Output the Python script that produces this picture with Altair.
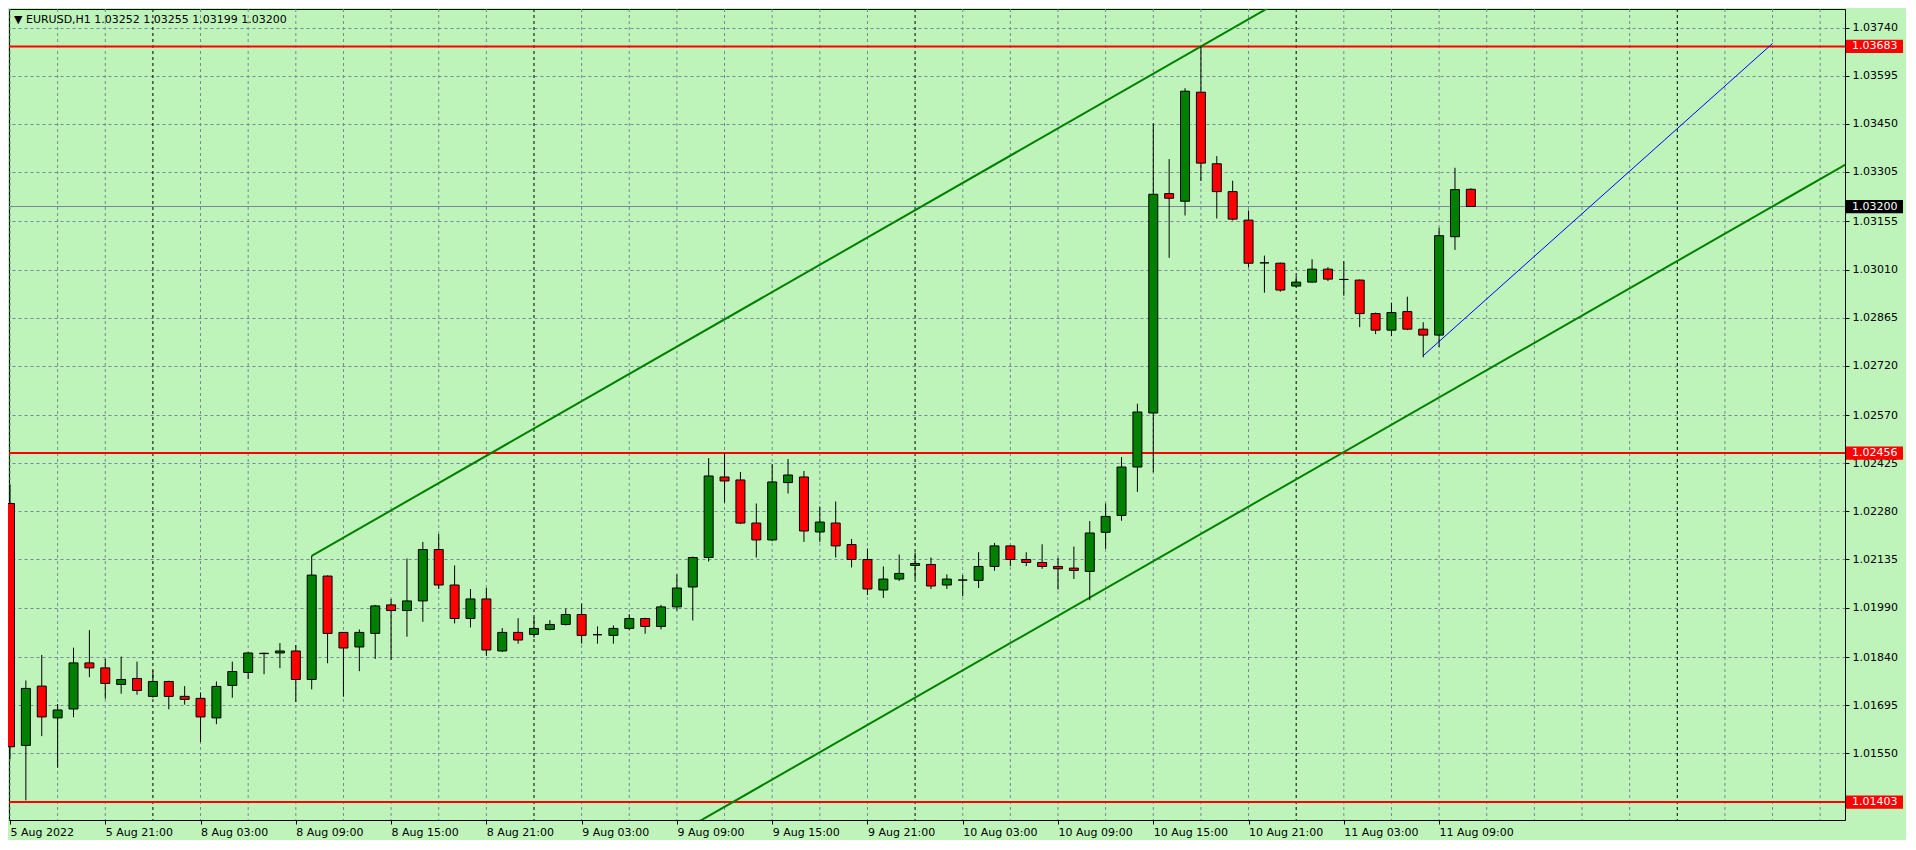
import altair as alt
import pandas as pd

# ---- data: EURUSD H1, bar time as hours since 8 Aug 2022 00:00 ----
HOURS = list(range(-9, 84))
OPEN = [1.02304, 1.01574, 1.01753, 1.01657, 1.01684, 1.01823, 1.01808, 1.01758, 1.01776,
        1.01722, 1.01767, 1.01722, 1.01716, 1.01657, 1.01755, 1.01794, 1.01852, 1.01853, 1.01859,
        1.01773, 1.02085, 1.01915, 1.01871, 1.01912, 1.01998, 1.01981, 1.02010, 1.02165, 1.02058,
        1.01957, 1.02016, 1.01859, 1.01915,
        1.01909, 1.01924, 1.01939, 1.01969, 1.01908, 1.01906, 1.01927, 1.01957, 1.01933, 1.01992,
        1.02052, 1.02141, 1.02384, 1.02375, 1.02245, 1.02194, 1.02367, 1.02384, 1.02218, 1.02245,
        1.02180, 1.02135, 1.02043, 1.02076,
        1.02117, 1.02120, 1.02058, 1.02073, 1.02072, 1.02114, 1.02176, 1.02135, 1.02126, 1.02114,
        1.02109, 1.02099, 1.02217, 1.02268, 1.02414, 1.02577, 1.03239, 1.03216, 1.03545, 1.03329,
        1.03245, 1.03159, 1.03030, 1.03029,
        1.02960, 1.02972, 1.03011, 1.02980, 1.02978, 1.02877, 1.02827, 1.02883, 1.02830, 1.02812,
        1.03109, 1.03252]
HIGH = [1.02361, 1.01770, 1.01847, 1.01699, 1.01869, 1.01922, 1.01836, 1.01842, 1.01827,
        1.01800, 1.01769, 1.01753, 1.01734, 1.01767, 1.01827, 1.01855, 1.01854, 1.01883, 1.01877,
        1.02146, 1.02087, 1.01916, 1.01924, 1.01998, 1.02016, 1.02138, 1.02188, 1.02212, 1.02117,
        1.02046, 1.02049, 1.01928, 1.01958,
        1.01961, 1.01952, 1.01987, 1.02002, 1.01933, 1.01936, 1.01970, 1.01959, 1.01998, 1.02090,
        1.02144, 1.02441, 1.02456, 1.02399, 1.02304, 1.02423, 1.02438, 1.02402, 1.02295, 1.02310,
        1.02197, 1.02168, 1.02114, 1.02150,
        1.02156, 1.02141, 1.02090, 1.02088, 1.02157, 1.02185, 1.02178, 1.02157, 1.02181, 1.02140,
        1.02174, 1.02251, 1.02304, 1.02444, 1.02605, 1.03451, 1.03343, 1.03557, 1.03683, 1.03352,
        1.03278, 1.03188, 1.03052, 1.03031,
        1.02990, 1.03041, 1.03017, 1.03035, 1.02980, 1.02880, 1.02910, 1.02928, 1.02851, 1.03136,
        1.03317, 1.03255]
LOW = [1.01533, 1.01408, 1.01602, 1.01507, 1.01659, 1.01780, 1.01715, 1.01730, 1.01727,
       1.01718, 1.01683, 1.01697, 1.01584, 1.01638, 1.01718, 1.01774, 1.01789, 1.01807, 1.01705,
       1.01743, 1.01822, 1.01721, 1.01798, 1.01835, 1.01832, 1.01902, 1.01947, 1.02046, 1.01942,
       1.01930, 1.01844, 1.01856, 1.01881,
       1.01899, 1.01921, 1.01936, 1.01881, 1.01881, 1.01881, 1.01921, 1.01911, 1.01924, 1.01981,
       1.01951, 1.02129, 1.02307, 1.02242, 1.02141, 1.02190, 1.02334, 1.02188, 1.02188, 1.02141,
       1.02111, 1.02028, 1.02019, 1.02070,
       1.02076, 1.02046, 1.02046, 1.02024, 1.02049, 1.02101, 1.02115, 1.02115, 1.02107, 1.02044,
       1.02076, 1.02012, 1.02167, 1.02252, 1.02339, 1.02398, 1.03045, 1.03173, 1.03277, 1.03164,
       1.03158, 1.03017, 1.02940, 1.02943,
       1.02958, 1.02970, 1.02975, 1.02931, 1.02836, 1.02815, 1.02809, 1.02827, 1.02745, 1.02776,
       1.03069, 1.03199]
CLOSE = [1.01570, 1.01746, 1.01660, 1.01681, 1.01823, 1.01808, 1.01761, 1.01773, 1.01740,
         1.01767, 1.01722, 1.01713, 1.01660, 1.01752, 1.01797, 1.01853, 1.01851, 1.01859, 1.01773,
         1.02088, 1.01912, 1.01868, 1.01915, 1.01995, 1.01981, 1.02010, 1.02165, 1.02058, 1.01957,
         1.02016, 1.01862, 1.01915, 1.01892,
         1.01927, 1.01939, 1.01969, 1.01906, 1.01908, 1.01927, 1.01957, 1.01933, 1.01992, 1.02049,
         1.02141, 1.02387, 1.02372, 1.02245, 1.02194, 1.02369, 1.02390, 1.02221, 1.02248, 1.02176,
         1.02135, 1.02046, 1.02076, 1.02093,
         1.02123, 1.02055, 1.02076, 1.02073, 1.02114, 1.02176, 1.02135, 1.02126, 1.02114, 1.02107,
         1.02102, 1.02215, 1.02265, 1.02414, 1.02580, 1.03237, 1.03225, 1.03548, 1.03331, 1.03245,
         1.03162, 1.03029, 1.03030, 1.02948,
         1.02972, 1.03011, 1.02981, 1.02980, 1.02877, 1.02827, 1.02880, 1.02830, 1.02812, 1.03112,
         1.03251, 1.03200]

# horizontal levels
RED_LEVELS = [1.03683, 1.02456, 1.01403]
CURRENT_PRICE = 1.03200

# trend lines (hour, price) pairs
UPPER_H = [10, 75]
UPPER_P = [1.02146, 1.03930]
LOWER_H = [30, 110]
LOWER_P = [1.01224, 1.03420]
BLUE_H = [80, 102]
BLUE_P = [1.02750, 1.03692]

# axes
Y_TICKS = [1.03740, 1.03595, 1.03450, 1.03305, 1.03155, 1.03010, 1.02865, 1.02720,
           1.02570, 1.02425, 1.02280, 1.02135, 1.01990, 1.01840, 1.01695, 1.01550]
X_TICK_HOURS = [-9, -3, 3, 9, 15, 21, 27, 33, 39, 45, 51, 57, 63, 69, 75, 81]
X_TICK_LABELS = ["5 Aug 2022", "5 Aug 21:00", "8 Aug 03:00", "8 Aug 09:00", "8 Aug 15:00",
                 "8 Aug 21:00", "9 Aug 03:00", "9 Aug 09:00", "9 Aug 15:00", "9 Aug 21:00",
                 "10 Aug 03:00", "10 Aug 09:00", "10 Aug 15:00", "10 Aug 21:00",
                 "11 Aug 03:00", "11 Aug 09:00"]
TITLE = "\u25bc EURUSD,H1  1.03252 1.03255 1.03199 1.03200"

X_DOMAIN = [-9.0625, 106.5625]
Y_DOMAIN = [1.01349, 1.03796]

W, H = 1836, 811
BG = "#BEF4BA"
GRID = "#778899"
FONT = "DejaVu Sans"

df = pd.DataFrame({"h": HOURS, "open": OPEN, "high": HIGH, "low": LOW, "close": CLOSE})
df["dir"] = ["up" if c > o else ("down" if c < o else "flat") for o, c in zip(OPEN, CLOSE)]

xscale = alt.Scale(domain=X_DOMAIN, nice=False, zero=False, padding=0)
yscale = alt.Scale(domain=Y_DOMAIN, nice=False, zero=False, padding=0)

label_arr = "[" + ",".join("'" + s + "'" for s in X_TICK_LABELS) + "]"
x_axis = alt.Axis(values=X_TICK_HOURS, title=None, grid=False, domain=False,
                  labelExpr=label_arr + "[round((datum.value + 9) / 6)]",
                  labelAlign="left", labelPadding=2, tickSize=4, tickColor="black",
                  labelFont=FONT, labelFontSize=11, labelColor="black",
                  labelOverlap=False, labelBound=False, labelFlush=False)
y_axis = alt.Axis(values=Y_TICKS, title=None, orient="right", format=".5f", grid=True,
                  gridDash=[3, 3], gridColor=GRID, gridOpacity=1, domain=False,
                  tickSize=4, tickColor="black", labelPadding=3,
                  labelFont=FONT, labelFontSize=11, labelColor="black", labelOverlap=False)

X = lambda f: alt.X(f, scale=xscale, axis=x_axis)
Y = lambda f: alt.Y(f, scale=yscale, axis=y_axis)

# vertical grid (every 3 bars) and day separators
grid_hours = [h for h in range(-9, 107, 3) if h % 24 != 0]
day_hours = [h for h in range(0, 107, 24)]
vgrid = alt.Chart(pd.DataFrame({"h": grid_hours})).mark_rule(
    color=GRID, strokeDash=[3, 3], strokeWidth=1).encode(x=X("h:Q"))
vday = alt.Chart(pd.DataFrame({"h": day_hours})).mark_rule(
    color="black", strokeDash=[3, 3], strokeWidth=1).encode(x=X("h:Q"))

cur_line = alt.Chart(pd.DataFrame({"p": [CURRENT_PRICE]})).mark_rule(
    color=GRID, strokeWidth=1).encode(y=Y("p:Q"))
red_lines = alt.Chart(pd.DataFrame({"p": RED_LEVELS})).mark_rule(
    color="#FF0000", strokeWidth=2).encode(y=Y("p:Q"))

def tline(hs, ps, color, width):
    return alt.Chart(pd.DataFrame({"h": hs, "p": ps})).mark_line(
        color=color, strokeWidth=width, clip=True).encode(x=X("h:Q"), y=Y("p:Q"))

upper = tline(UPPER_H, UPPER_P, "#008000", 2)
lower = tline(LOWER_H, LOWER_P, "#008000", 2)
blue = tline(BLUE_H, BLUE_P, "#0000FF", 1)

base = alt.Chart(df)
wicks = base.mark_rule(color="black", strokeWidth=1).encode(
    x=X("h:Q"), y=Y("low:Q"), y2="high:Q")
bodies = base.mark_bar(size=9, stroke="black", strokeWidth=1, opacity=1).encode(
    x=X("h:Q"), y=Y("open:Q"), y2="close:Q",
    color=alt.Color("dir:N", scale=alt.Scale(domain=["up", "down", "flat"],
                                             range=["#008000", "#FF0000", "#000000"]),
                    legend=None))

# price tags on the right axis
box_shape = "M-1,-0.2333L1,-0.2333L1,0.2333L-1,0.2333Z"

def tag(levels, fill):
    d = pd.DataFrame({"p": levels, "txt": [f"{v:.5f}" for v in levels]})
    box = alt.Chart(d).mark_point(shape=box_shape, filled=True, opacity=1, fill=fill,
                                  color=fill, size=57 * 57, strokeWidth=0).encode(
        x=alt.value(W + 29.5), y=Y("p:Q"))
    txt = alt.Chart(d).mark_text(align="left", baseline="middle", font=FONT,
                                 fontSize=11, color="white").encode(
        x=alt.value(W + 7), y=Y("p:Q"), text="txt:N")
    return box, txt

red_box, red_txt = tag(RED_LEVELS, "#FF0000")
cur_box, cur_txt = tag([CURRENT_PRICE], "#000000")

title = alt.Chart(pd.DataFrame({"t": [TITLE]})).mark_text(
    align="left", baseline="middle", font=FONT, fontSize=11, color="black").encode(
    x=alt.value(5), y=alt.value(11), text="t:N")

chart = alt.layer(vgrid, vday, cur_line, red_lines, upper, lower, blue,
                  wicks, bodies, red_box, red_txt, cur_box, cur_txt, title).properties(
    width=W, height=H, background=BG,
    autosize=alt.AutoSizeParams(type="none"),
    padding={"left": 1, "top": 1, "right": 61, "bottom": 20}
).configure_view(fill=BG, stroke="black", strokeWidth=1)

chart.save("out.html", embed_options={"renderer": "svg", "actions": False})
